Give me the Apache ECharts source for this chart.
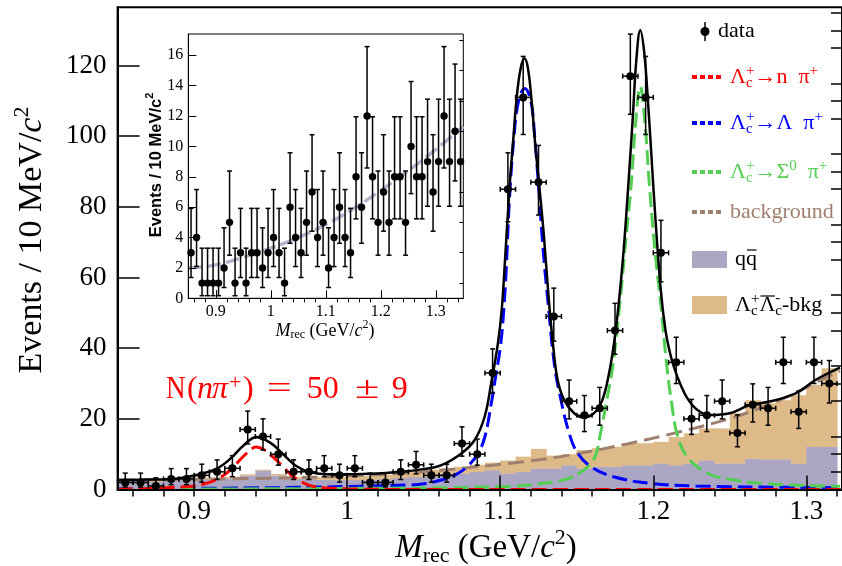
<!DOCTYPE html>
<html><head><meta charset="utf-8">
<script src="https://cdn.jsdelivr.net/npm/echarts@6/dist/echarts.min.js"></script>
<style>html,body{margin:0;padding:0;background:#fff}#c{width:842px;height:566px}</style>
</head><body><div id="c"></div>
<script>
// ---------------- DATA ----------------
const binCenters = [0.855,0.865,0.875,0.885,0.895,0.905,0.915,0.925,0.935,0.945,0.955,0.965,0.975,0.985,0.995,1.005,1.015,1.025,1.035,1.045,1.055,1.065,1.075,1.085,1.095,1.105,1.115,1.125,1.135,1.145,1.155,1.165,1.175,1.185,1.195,1.205,1.215,1.225,1.235,1.245,1.255,1.265,1.275,1.285,1.295,1.305,1.315];
const dataCounts = [2,2,1,3,3,4,5,6,17,15,10,5,5,6,4,6,2,2,5,7,4,4,13,10,33,85,111,87,49,25,21,23,45,117,111,67,36,20,21,25,16,24,23,36,22,36,30];
const dataLow = [0.71,0.71,0.17,1.37,1.37,2.09,2.84,3.62,12.9,11.2,6.89,2.84,2.84,3.62,2.09,3.62,0.71,0.71,2.84,4.42,2.09,2.09,9.44,6.89,27.3,75.8,100.5,77.7,42.0,20.0,16.4,18.2,38.3,106.2,100.5,58.8,30.0,15.6,16.4,20.0,12.1,19.1,18.2,30.0,17.3,30.0,24.5];
const dataHigh = [4.64,4.64,3.30,5.92,5.92,7.16,8.38,9.58,22.2,20.0,14.27,8.38,8.38,9.58,7.16,9.58,4.64,4.64,8.38,10.77,7.16,7.16,17.73,14.27,39.8,95.3,122.6,97.4,57.0,31.0,26.6,28.9,52.7,128.9,122.6,76.2,43.1,25.5,26.6,31.0,21.1,29.9,28.9,43.1,27.8,43.1,36.5];
// stacked histograms (per 10 MeV bin)
const qqHeights = [2.5,2.5,2.2,2.5,2.8,3.0,2.7,3.2,4.0,5.4,4.0,3.0,3.0,2.8,2.7,2.7,2.7,3.0,3.3,3.6,3.6,4.6,4.6,5.0,5.5,4.6,5.0,6.0,6.0,6.9,6.0,6.5,6.5,6.9,6.9,7.4,6.9,7.4,8.3,7.4,7.4,8.8,8.6,8.6,7.4,12.1,12.1];
const lcBkgHeights = [0.5,0.5,0.6,0.5,0.4,0.4,0.5,0.4,0.3,0.2,0.4,0.6,0.5,0.7,0.8,0.9,1.1,1.2,1.7,1.7,2.0,1.4,1.8,2.0,2.1,3.6,4.3,5.5,3.6,3.1,5.2,5.2,5.6,6.2,6.2,6.1,8.0,8.5,9.0,9.9,14.2,16.5,15.8,16.7,19.3,17.5,22.2];
// fit curves [x, y]
const totalCurve = [[0.85,2.7],[0.87,2.8],[0.8827,2.9],[0.8934,3.4],[0.9044,4.4],[0.9152,6.0],[0.9239,8.8],[0.9326,12.6],[0.9405,14.8],[0.9499,13.2],[0.9586,9.8],[0.9672,6.5],[0.9759,4.9],[0.988,4.3],[1.01,4.4],[1.031,4.9],[1.0487,5.7],[1.0616,6.9],[1.0746,10.2],[1.0833,14.0],[1.0898,20.6],[1.0941,30.1],[1.0985,41.4],[1.101,51],[1.103,64],[1.106,85],[1.1085,99],[1.111,112],[1.1135,119.5],[1.1158,122],[1.118,119.5],[1.1205,110],[1.123,97],[1.1255,86],[1.1285,72],[1.1315,55],[1.1345,41],[1.1375,31],[1.1418,25.3],[1.1483,21.6],[1.1548,20.4],[1.1613,21.6],[1.1667,25.3],[1.1711,32.9],[1.1745,42],[1.1775,53],[1.1805,67],[1.1835,85],[1.1865,104.6],[1.189,122],[1.1915,130],[1.194,124],[1.1965,110],[1.199,93],[1.2015,76],[1.205,56],[1.208,45],[1.211,38.5],[1.214,34],[1.218,29.5],[1.222,26],[1.228,22.8],[1.237,21.1],[1.25,21.6],[1.263,23.9],[1.276,24.9],[1.293,27.2],[1.306,31.0],[1.322,34.5]];
const nPiCurve = [[0.85,0.1],[0.87,0.3],[0.88,0.5],[0.89,0.7],[0.9,1.0],[0.91,2.0],[0.917,3.4],[0.924,5.6],[0.93,8.4],[0.935,10.5],[0.9405,12.0],[0.946,11.2],[0.952,9.0],[0.958,6.5],[0.964,3.9],[0.97,2.2],[0.976,1.1],[0.985,0.5],[1.0,0.2],[1.02,0.05],[1.04,0],[1.322,0]];
const lambdaPiCurve = [[0.85,0.2],[0.95,0.5],[1.0,0.85],[1.042,1.3],[1.05,1.6],[1.0616,2.7],[1.07,4.0],[1.078,6.3],[1.0855,10.2],[1.09,15],[1.094,24],[1.0974,33],[1.1,40],[1.102,49],[1.104,63],[1.106,82],[1.109,100],[1.112,110],[1.116,113.5],[1.12,110],[1.1225,100],[1.125,86],[1.128,68],[1.131,54],[1.1355,35],[1.1397,25.3],[1.145,16],[1.15,10.7],[1.159,6.5],[1.174,3.6],[1.198,1.75],[1.228,1.0],[1.293,0.6],[1.322,0.5]];
const sigmaPiCurve = [[0.85,0.1],[1.0,0.3],[1.1,0.8],[1.131,1.9],[1.145,3.2],[1.1515,4.6],[1.1609,8.3],[1.1655,15.9],[1.169,24],[1.1735,34.8],[1.178,52],[1.1815,68],[1.1855,86],[1.1885,104],[1.1915,114],[1.1945,104],[1.1975,86],[1.201,68],[1.205,52],[1.2088,35],[1.212,24.5],[1.2154,16],[1.222,9.3],[1.2355,4.6],[1.25,2.9],[1.2713,1.75],[1.3,1.1],[1.322,0.9]];
const bkgCurve = [[0.85,2.6],[0.9,2.9],[0.95,3.2],[1.0,3.8],[1.05,5.0],[1.077,6.1],[1.116,7.9],[1.146,9.8],[1.185,13.1],[1.218,16.4],[1.25,20.1],[1.272,23.4],[1.289,26.6],[1.305,30.0],[1.322,33.6]];
// inset
const insetCenters = [0.855,0.865,0.875,0.885,0.895,0.905,0.915,0.925,0.935,0.945,0.955,0.965,0.975,0.985,0.995,1.005,1.015,1.025,1.035,1.045,1.055,1.065,1.075,1.085,1.095,1.105,1.115,1.125,1.135,1.145,1.155,1.165,1.175,1.185,1.195,1.205,1.215,1.225,1.235,1.245,1.255,1.265,1.275,1.285,1.295,1.305,1.315,1.325,1.335,1.345];
const insetCounts = [3,4,1,1,1,1,2,5,1,3,1,3,3,2,3,4,3,1,6,4,3,5,7,4,5,2,4,6,4,3,8,6,12,8,5,7,5,8,8,5,10,8,8,9,7,9,12,9,11,9];
const insetLow = [1.37,2.09,0.17,0.17,0.17,0.17,0.71,2.84,0.17,1.37,0.17,1.37,1.37,0.71,1.37,2.09,1.37,0.17,3.62,2.09,1.37,2.84,4.42,2.09,2.84,0.71,2.09,3.62,2.09,1.37,5.23,3.62,8.58,5.23,2.84,4.42,2.84,5.23,5.23,2.84,6.89,5.23,5.23,6.06,4.42,6.06,8.58,6.06,7.73,6.06];
const insetHigh = [5.92,7.16,3.30,3.30,3.30,3.30,4.64,8.38,3.30,5.92,3.30,5.92,5.92,4.64,5.92,7.16,5.92,3.30,9.58,7.16,5.92,8.38,10.77,7.16,8.38,4.64,7.16,9.58,7.16,5.92,11.95,9.58,16.57,11.95,8.38,10.77,8.38,11.95,11.95,8.38,14.27,11.95,11.95,13.11,10.77,13.11,16.57,13.11,15.42,13.11];
const insetCurve = [[0.85,2.0],[0.9,2.2],[0.95,2.7],[1.0,3.3],[1.05,4.0],[1.1,4.85],[1.15,5.9],[1.2,7.1],[1.25,8.4],[1.3,9.8],[1.35,11.3]];
// ticks
const mainXTicks = [0.9,1.0,1.1,1.2,1.3];
const mainXMinor = [0.86,0.88,0.9,0.92,0.94,0.96,0.98,1.0,1.02,1.04,1.06,1.08,1.1,1.12,1.14,1.16,1.18,1.2,1.22,1.24,1.26,1.28,1.3,1.32];
const mainYTicks = [0,20,40,60,80,100,120];
const mainYMinor = [5,10,15,25,30,35,45,50,55,65,70,75,85,90,95,105,110,115,125,130,135];
const insetXTicks = [0.9,1.0,1.1,1.2,1.3];
const insetXMinor = [0.86,0.88,0.92,0.94,0.96,0.98,1.02,1.04,1.06,1.08,1.12,1.14,1.16,1.18,1.22,1.24,1.26,1.28,1.32,1.34];
const insetYTicks = [0,2,4,6,8,10,12,14,16];
const insetYMinor = [1,3,5,7,9,11,13,15,17];

// ---------------- STYLE ----------------
const SERIF = '"Liberation Serif","Times New Roman",serif';
const SANS = '"Liberation Sans",Arial,sans-serif';
const C_QQ = '#aba6c4', C_TAN = '#deba89', C_RED = '#ff0000', C_BLUE = '#0000ff',
      C_GREEN = '#52cf52', C_BROWN = '#9f806e', C_INSET = '#b6b1cc';

const mctx = document.createElement('canvas').getContext('2d');
function tw(t, f){ mctx.font = f; return mctx.measureText(t).width; }
function richLine(pieces, opt){
  let cur = 0, stackW = 0; const els = [];
  for (const p of pieces){
    const size = p.size || opt.size;
    const font = (p.italic?'italic ':'') + ((p.bold||opt.bold)?'bold ':'') + size + 'px ' + (p.family||opt.family||SERIF);
    const w = tw(p.t, font);
    const x = cur + (p.dx||0);
    els.push({type:'text', x:x, y:(p.dy||0), style:{text:p.t, font:font, fill:p.color||opt.color, textAlign:'left', textVerticalAlign:'middle'}});
    if (p.over !== undefined) els.push({type:'line', shape:{x1:x+1, y1:p.over, x2:x+w-0.5, y2:p.over}, style:{stroke:p.color||opt.color, lineWidth:1.2}});
    if (p.stack){ stackW = Math.max(stackW, w); }
    else { cur += Math.max(w, stackW); stackW = 0; }
  }
  const off = opt.anchor === 'center' ? -cur/2 : 0;
  els.forEach(e => { if (e.type==='text') e.x += off; else { e.shape.x1 += off; e.shape.x2 += off; } });
  return {type:'group', x:opt.x, y:opt.y, rotation:opt.rotation||0, children:els, z:100};
}
const LC = () => [{t:'Λ'},{t:'+',size:15,dy:-6,stack:true},{t:'c',size:15,dy:6}];

const graphics = [];
// axis titles
graphics.push(richLine([{t:'M',italic:true},{t:'rec',size:22,dy:8},{t:' (GeV/'},{t:'c',italic:true},{t:'2',size:22,dy:-10},{t:')'}],
  {x:486, y:548, size:33, color:'#000', anchor:'center'}));
graphics.push(richLine([{t:'Events / 10 MeV/'},{t:'c',italic:true},{t:'2',size:22,dy:-10}],
  {x:32, y:240, size:34, color:'#000', anchor:'center', rotation:Math.PI/2}));
// inset titles
graphics.push(richLine([{t:'M',italic:true},{t:'rec',size:12,dy:4},{t:' (GeV/'},{t:'c',italic:true},{t:'2',size:12,dy:-6},{t:')'}],
  {x:325, y:331, size:18, color:'#000', anchor:'center'}));
graphics.push(richLine([{t:'Events / 10 MeV/'},{t:'c'},{t:'2',size:11,dy:-6}],
  {x:156, y:165, size:16.5, bold:true, family:SANS, color:'#000', anchor:'center', rotation:Math.PI/2}));
// annotation N(n pi+) = 50 +- 9
const annot = [
  {t:'N',x:166,sx:0.85},{t:'(',x:187},{t:'n',x:197,it:true},{t:'π',x:212,it:true},{t:'+',x:229,s:22,dy:-7},
  {t:')',x:243},{t:'=',x:266.7,sx:1.38},{t:'50',x:306.7},{t:'±',x:355,sx:1.38},{t:'9',x:391.7}];
annot.forEach(a => graphics.push({type:'text', x:a.x, y:390+(a.dy||0), z:100, scaleX:a.sx||1,
  style:{text:a.t, font:(a.it?'italic ':'')+(a.s||32)+'px '+SERIF, fill:C_RED, textAlign:'left', textVerticalAlign:'middle'}}));
// legend
graphics.push({type:'line', shape:{x1:705,y1:22,x2:705,y2:41}, style:{stroke:'#000',lineWidth:1.5}, z:100});
graphics.push({type:'circle', shape:{cx:705,cy:31.5,r:4.5}, style:{fill:'#000'}, z:100});
graphics.push(richLine([{t:'data'}], {x:718, y:31, size:22, color:'#000'}));
const legLines = [[77,C_RED],[123,C_BLUE],[172,C_GREEN],[212,C_BROWN]];
legLines.forEach(([y,c]) => graphics.push({type:'line', shape:{x1:692,y1:y,x2:722,y2:y}, style:{stroke:c, lineWidth:4, lineDash:[5,3]}, z:100}));
graphics.push(richLine([...LC(),{t:'→n  π'},{t:'+',size:15,dy:-6}], {x:730, y:77, size:22, color:C_RED}));
graphics.push(richLine([...LC(),{t:'→Λ  π'},{t:'+',size:15,dy:-6}], {x:730, y:123, size:22, color:C_BLUE}));
graphics.push(richLine([...LC(),{t:'→Σ'},{t:'0',size:15,dy:-6},{t:'  π'},{t:'+',size:15,dy:-6}], {x:730, y:172, size:22, color:C_GREEN}));
graphics.push(richLine([{t:'background'}], {x:730, y:212, size:22, color:C_BROWN}));
graphics.push({type:'rect', shape:{x:692,y:251,width:35,height:17}, style:{fill:C_QQ}, z:100});
graphics.push(richLine([{t:'q'},{t:'q',over:-9}], {x:735, y:259, size:22, color:'#000'}));
graphics.push({type:'rect', shape:{x:692,y:296,width:35,height:18}, style:{fill:C_TAN}, z:100});
graphics.push(richLine([...LC(),{t:'Λ',over:-9},{t:'-',size:15,dy:-7,stack:true},{t:'c',size:15,dy:6},{t:'-bkg'}], {x:735, y:305, size:22, color:'#000'}));

// ---------------- SERIES ----------------
function histItem(params, api){
  const c = api.value(0), g = api.value(1), t = api.value(2);
  const a = api.coord([c-0.005, 0]), b = api.coord([c+0.005, g]), d = api.coord([c+0.005, g+t]);
  const w = b[0]-a[0]+0.6;
  return {type:'group', children:[
    {type:'rect', shape:{x:a[0], y:b[1], width:w, height:a[1]-b[1]}, style:{fill:C_QQ}},
    {type:'rect', shape:{x:a[0], y:d[1], width:w, height:b[1]-d[1]+0.3}, style:{fill:C_TAN}}
  ]};
}
function errItem(halfW, r, cap){
  return function(params, api){
    const x = api.value(0), y = api.value(1), lo = api.value(2), hi = api.value(3);
    const pc = api.coord([x,y]), pl = api.coord([x,lo]), ph = api.coord([x,hi]);
    const st = {stroke:'#000', lineWidth:1.5};
    const ch = [
      {type:'line', shape:{x1:pc[0],y1:pl[1],x2:pc[0],y2:ph[1]}, style:st},
      {type:'line', shape:{x1:pc[0]-cap,y1:ph[1],x2:pc[0]+cap,y2:ph[1]}, style:st},
      {type:'line', shape:{x1:pc[0]-cap,y1:pl[1],x2:pc[0]+cap,y2:pl[1]}, style:st}
    ];
    if (halfW > 0){
      const xl = api.coord([x-halfW,y]), xr = api.coord([x+halfW,y]);
      ch.push({type:'line', shape:{x1:xl[0],y1:pc[1],x2:xr[0],y2:pc[1]}, style:st});
      ch.push({type:'line', shape:{x1:xl[0],y1:pc[1]-cap,x2:xl[0],y2:pc[1]+cap}, style:st});
      ch.push({type:'line', shape:{x1:xr[0],y1:pc[1]-cap,x2:xr[0],y2:pc[1]+cap}, style:st});
    }
    ch.push({type:'circle', shape:{cx:pc[0],cy:pc[1],r:r}, style:{fill:'#000'}});
    return {type:'group', children:ch};
  };
}
function curve(data, color, dash, width, xi, yi, z){
  return {type:'line', xAxisIndex:xi||0, yAxisIndex:yi||0, data:data, smooth:0.4, symbol:'none', z:z||3,
    lineStyle:{color:color, width:width, type:dash||'solid'}, silent:true};
}

const fmt = v => String(+(+v).toFixed(2));
function ax(extra){ return Object.assign({type:'value', splitLine:{show:false}}, extra); }

const option = {
  animation:false,
  backgroundColor:'#fff',
  grid:[
    {left:117.6, top:7.3, right:-4, bottom:76.5, show:true, borderColor:'#000', borderWidth:2, backgroundColor:'transparent'},
    {left:188.3, top:34, width:275, height:264.3, show:true, borderColor:'#000', borderWidth:1, backgroundColor:'#fff'}
  ],
  xAxis:[
    ax({gridIndex:0, min:0.85, max:1.3233, z:10,
      axisLine:{show:true, lineStyle:{color:'#000', width:2}},
      axisTick:{show:true, inside:true, length:14, customValues:mainXTicks, lineStyle:{color:'#000', width:1.5}},
      axisLabel:{show:true, customValues:mainXTicks, formatter:fmt, margin:9, color:'#000', fontFamily:SERIF, fontSize:27}}),
    ax({gridIndex:0, min:0.85, max:1.3233, z:10, axisLine:{show:false},
      axisTick:{show:true, inside:true, length:7, customValues:mainXMinor, lineStyle:{color:'#000', width:1.5}},
      axisLabel:{show:false}}),
    ax({gridIndex:1, min:0.85, max:1.35, z:10,
      axisLine:{show:true, lineStyle:{color:'#000', width:1}},
      axisTick:{show:true, inside:true, length:8, customValues:insetXTicks, lineStyle:{color:'#000', width:1}},
      axisLabel:{show:true, customValues:insetXTicks, formatter:fmt, margin:5, color:'#000', fontFamily:SERIF, fontSize:16}}),
    ax({gridIndex:1, min:0.85, max:1.35, z:10, axisLine:{show:false},
      axisTick:{show:true, inside:true, length:4, customValues:insetXMinor, lineStyle:{color:'#000', width:1}},
      axisLabel:{show:false}})
  ],
  yAxis:[
    ax({gridIndex:0, min:0, max:136.5, z:10,
      axisLine:{show:true, lineStyle:{color:'#000', width:2}},
      axisTick:{show:true, inside:true, length:22, customValues:mainYTicks, lineStyle:{color:'#000', width:1.5}},
      axisLabel:{show:true, customValues:mainYTicks, margin:11, color:'#000', fontFamily:SERIF, fontSize:27}}),
    ax({gridIndex:0, min:0, max:136.5, z:10, axisLine:{show:false},
      axisTick:{show:true, inside:true, length:11, customValues:mainYMinor, lineStyle:{color:'#000', width:1.5}},
      axisLabel:{show:false}}),
    ax({gridIndex:1, min:0, max:17.4, z:10,
      axisLine:{show:true, lineStyle:{color:'#000', width:1}},
      axisTick:{show:true, inside:true, length:8, customValues:insetYTicks, lineStyle:{color:'#000', width:1}},
      axisLabel:{show:true, customValues:insetYTicks, margin:5, color:'#000', fontFamily:SERIF, fontSize:16}}),
    ax({gridIndex:1, min:0, max:17.4, z:10, axisLine:{show:false},
      axisTick:{show:true, inside:true, length:4, customValues:insetYMinor, lineStyle:{color:'#000', width:1}},
      axisLabel:{show:false}})
  ],
  series:[
    {type:'custom', xAxisIndex:0, yAxisIndex:0, z:1, silent:true, renderItem:histItem,
      encode:{x:0, y:1}, data: binCenters.map((c,i)=>[c, qqHeights[i], lcBkgHeights[i]])},
    curve(bkgCurve, C_BROWN, [16,7], 3),
    curve(lambdaPiCurve, C_BLUE, [15,6], 3),
    curve(sigmaPiCurve, C_GREEN, [15,6], 3),
    curve(nPiCurve, C_RED, [15,6], 3),
    curve(totalCurve, '#000', 'solid', 2.5, 0, 0, 4),
    {type:'custom', xAxisIndex:0, yAxisIndex:0, z:5, silent:true, renderItem:errItem(0.005, 4, 2.5),
      encode:{x:0, y:1}, data: binCenters.map((c,i)=>[c, dataCounts[i], dataLow[i], dataHigh[i]])},
    curve(insetCurve, C_INSET, [14,5], 3.5, 2, 2, 3),
    {type:'custom', xAxisIndex:2, yAxisIndex:2, z:5, silent:true, renderItem:errItem(0, 3.7, 2.5),
      encode:{x:0, y:1}, data: insetCenters.map((c,i)=>[c, insetCounts[i], insetLow[i], insetHigh[i]])}
  ],
  graphic:{elements:graphics}
};
const chart = echarts.init(document.getElementById('c'), null, {renderer:'canvas', width:842, height:566});
chart.setOption(option);
</script></body></html>
